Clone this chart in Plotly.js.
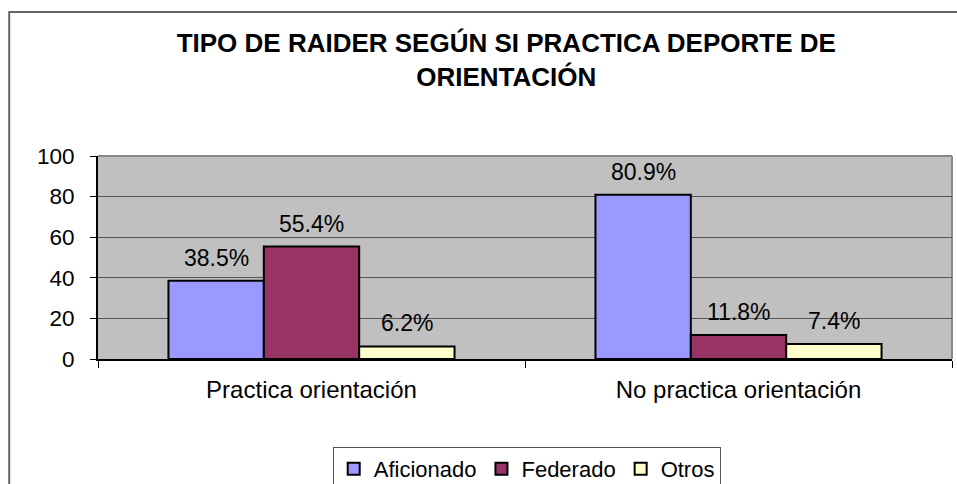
<!DOCTYPE html>
<html>
<head>
<meta charset="utf-8">
<script src="https://cdn.plot.ly/plotly-3.0.1.min.js"></script>
<style>html,body{margin:0;padding:0;background:#fff;}#chart{width:957px;height:484px;}</style>
</head>
<body>
<div id="chart"></div>
<script>
const categories = ["Practica orientación", "No practica orientación"];
const seriesNames = ["Aficionado", "Federado", "Otros"];
const aficionado = [38.5, 80.9];
const federado = [55.4, 11.8];
const otros = [6.2, 7.4];
const seriesColors = ["#9999FF", "#993366", "#FFFFCC"];
const yTicks = [0, 20, 40, 60, 80, 100];

const seriesValues = [aficionado, federado, otros];
const catIdx = categories.map((c, i) => i);
const bargap = 0.33;
const FONT = "Liberation Sans, Arial, sans-serif";

const traces = seriesValues.map((vals, s) => ({
  type: "bar",
  name: seriesNames[s],
  x: catIdx,
  y: vals,
  marker: { color: seriesColors[s], line: { color: "#000", width: 2 } },
  hoverinfo: "skip"
}));

const w = (1 - bargap) / seriesValues.length;
const annotations = [];
seriesValues.forEach((vals, s) => {
  vals.forEach((v, i) => {
    annotations.push({
      xref: "x", yref: "y",
      x: i + (s - (seriesValues.length - 1) / 2) * w,
      y: v,
      text: v.toFixed(1) + "%",
      showarrow: false,
      yanchor: "bottom",
      yshift: 8,
      font: { family: FONT, size: 23, color: "#000" }
    });
  });
});

const layout = {
  width: 957, height: 484,
  margin: { l: 98, r: 5, t: 156, b: 125, autoexpand: false },
  paper_bgcolor: "#fff",
  plot_bgcolor: "#C0C0C0",
  font: { family: FONT, size: 22, color: "#000" },
  showlegend: true,
  title: {
    text: "<b>TIPO DE RAIDER SEGÚN SI PRACTICA DEPORTE DE<br>ORIENTACIÓN</b>",
    font: { family: FONT, size: 26, color: "#000" },
    xref: "container", x: 0.529, xanchor: "center",
    yref: "container", y: 0.893, yanchor: "top"
  },
  barmode: "group",
  bargap: bargap,
  bargroupgap: 0,
  xaxis: {
    type: "linear",
    range: [-0.5, categories.length - 0.5],
    tickvals: catIdx,
    ticktext: categories,
    ticks: "",
    showgrid: false,
    zeroline: false,
    automargin: false,
    showline: true, linecolor: "#000", linewidth: 2,
    ticklabelstandoff: 8,
    tickfont: { family: FONT, size: 24, color: "#000" },
    minor: {
      tickvals: [-0.5, 0.5, 1.5],
      ticks: "outside", ticklen: 7, tickcolor: "#000", tickwidth: 1, showgrid: false
    },
    fixedrange: true
  },
  yaxis: {
    range: [0, 100],
    tickvals: yTicks,
    ticks: "outside", ticklen: 6, tickcolor: "#000", tickwidth: 1,
    showgrid: true, gridcolor: "#555", gridwidth: 1,
    zeroline: false,
    automargin: false,
    showline: true, linecolor: "#000", linewidth: 2,
    ticklabelstandoff: 11,
    tickfont: { family: FONT, size: 22.5, color: "#000" },
    fixedrange: true
  },
  legend: {
    orientation: "h",
    x: 0.502, xanchor: "center",
    y: -0.433, yanchor: "top",
    bgcolor: "#fff",
    bordercolor: "#555", borderwidth: 1,
    font: { family: FONT, size: 22, color: "#000" },
    itemwidth: 30,
    traceorder: "normal"
  },
  shapes: [
    { type: "rect", xref: "paper", yref: "paper", x0: -0.104, x1: 2, y0: -2, y1: 1.709,
      line: { color: "#666", width: 2 }, fillcolor: "rgba(0,0,0,0)", layer: "below" },
    { type: "line", xref: "paper", yref: "paper", x0: 0, x1: 1, y0: 1, y1: 1,
      line: { color: "#888", width: 2 }, layer: "below" },
    { type: "line", xref: "paper", yref: "paper", x0: 1, x1: 1, y0: 0, y1: 1,
      line: { color: "#888", width: 2 }, layer: "below" }
  ],
  annotations: annotations
};

Plotly.newPlot("chart", traces, layout, { displayModeBar: false, staticPlot: true });
</script>
</body>
</html>
